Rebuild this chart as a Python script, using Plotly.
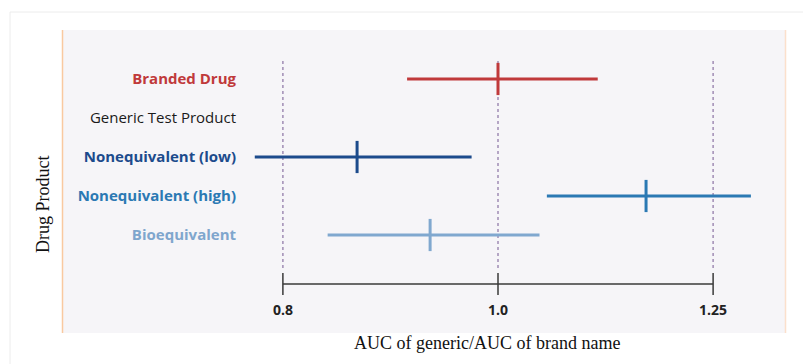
import math
import plotly.graph_objects as go

# ---- data ----
categories = ["Bioequivalent", "Nonequivalent (high)", "Nonequivalent (low)",
              "Generic Test Product", "Branded Drug"]
label_colors = ["#7fa6cd", "#2b79b3", "#1c4b8c", "#1a1a1a", "#c0393b"]
label_bold = [True, True, True, False, True]

series_names = ["Branded Drug", "Nonequivalent (low)", "Nonequivalent (high)", "Bioequivalent"]
series_center = [1.0, 0.864, 1.166, 0.932]
series_low = [0.910, 0.777, 1.052, 0.838]
series_high = [1.109, 0.973, 1.300, 1.044]
series_colors = ["#c0393b", "#1c4b8c", "#2b79b3", "#80a8cf"]

tick_vals = [0.8, 1.0, 1.25]
tick_text = ["0.8", "1.0", "1.25"]

# ---- layout geometry (pixels) ----
W, H = 803, 364
L, R, T, B = 245, 786, 30, 284
PW, PH = R - L, B - T
def px(xp):
    return (xp - L) / PW
def py(yp):
    return (B - yp) / PH

# log scale: 1.0 at ~498px, 964 px per ln unit
c_px, k = 498.0, 964.0
x0 = math.log10(math.exp((L - c_px) / k))
x1 = math.log10(math.exp((R - c_px) / k))

fig = go.Figure()

for name, c, lo, hi, col in zip(series_names, series_center, series_low, series_high, series_colors):
    fig.add_trace(go.Scatter(
        x=[c], y=[name], mode="markers",
        marker=dict(symbol="line-ns", size=23, line=dict(width=3, color=col), color=col),
        error_x=dict(type="data", symmetric=False, array=[hi - c], arrayminus=[c - lo],
                     color=col, thickness=3, width=0),
        showlegend=False, hoverinfo="x+y",
    ))

ticktext_y = []
for cat, col, b in zip(categories, label_colors, label_bold):
    t = f"<b>{cat}</b>" if b else cat
    ticktext_y.append(f"<span style='color:{col}'>{t}</span>")

shapes = []
# outer frame lines
shapes.append(dict(type="line", xref="paper", yref="paper", x0=px(10), x1=px(W), y0=py(12), y1=py(12),
                   line=dict(color="#ececec", width=1), layer="below"))
shapes.append(dict(type="line", xref="paper", yref="paper", x0=px(10), x1=px(10), y0=py(12), y1=py(H),
                   line=dict(color="#ececec", width=1), layer="below"))
# panel
shapes.append(dict(type="rect", xref="paper", yref="paper", x0=px(62), x1=px(786), y0=py(333), y1=py(30),
                   fillcolor="#f6f5f8", line=dict(width=0), layer="below"))
shapes.append(dict(type="line", xref="paper", yref="paper", x0=px(62.5), x1=px(62.5), y0=py(333), y1=py(30),
                   line=dict(color="#f9c9a0", width=1.5), layer="below"))
shapes.append(dict(type="line", xref="paper", yref="paper", x0=px(785.5), x1=px(785.5), y0=py(333), y1=py(30),
                   line=dict(color="#fbe0cc", width=1.5), layer="below"))
# dotted gridlines
for v in tick_vals:
    shapes.append(dict(type="line", xref="x", yref="paper", x0=v, x1=v, y0=py(268), y1=py(58),
                       line=dict(color="#a08cb4", width=1.5, dash="dot"), layer="below"))
# axis line + ticks
shapes.append(dict(type="line", xref="x", yref="paper", x0=tick_vals[0], x1=tick_vals[-1], y0=0, y1=0,
                   line=dict(color="#3a3a3a", width=1.5)))
for v in tick_vals:
    shapes.append(dict(type="line", xref="x", yref="paper", x0=v, x1=v, y0=py(295), y1=py(273),
                       line=dict(color="#3a3a3a", width=1.5)))

annotations = [
    dict(text="Drug Product", xref="paper", yref="paper", x=px(43), y=py(204), showarrow=False,
         textangle=-90, font=dict(family="Liberation Serif", size=18, color="#111111"),
         xanchor="center", yanchor="middle"),
    dict(text="AUC of generic/AUC of brand name", xref="paper", yref="paper", x=px(487), y=py(343),
         showarrow=False, font=dict(family="Liberation Serif", size=18, color="#111111"),
         xanchor="center", yanchor="middle"),
]

fig.update_layout(
    width=W, height=H,
    margin=dict(l=L, r=W - R, t=T, b=H - B, pad=0),
    paper_bgcolor="white",
    plot_bgcolor="rgba(0,0,0,0)",
    shapes=shapes,
    annotations=annotations,
    xaxis=dict(type="log", range=[x0, x1], showgrid=False, zeroline=False, showline=False,
               tickmode="array", tickvals=tick_vals, ticktext=[f"<b>{t}</b>" for t in tick_text],
               ticks="", ticklabelstandoff=16,
               tickfont=dict(family="Open Sans", size=14, color="#222222")),
    yaxis=dict(type="category", categoryorder="array", categoryarray=categories,
               tickmode="array", tickvals=categories, ticktext=ticktext_y,
               range=[-1.256, 5.256], showgrid=False, zeroline=False, showline=False,
               ticks="", ticklabelstandoff=8,
               tickfont=dict(family="Open Sans", size=15)),
)

fig.write_html("out.html", config={"displayModeBar": False},
               post_script="document.body.style.margin='0';document.body.style.overflow='hidden';")
